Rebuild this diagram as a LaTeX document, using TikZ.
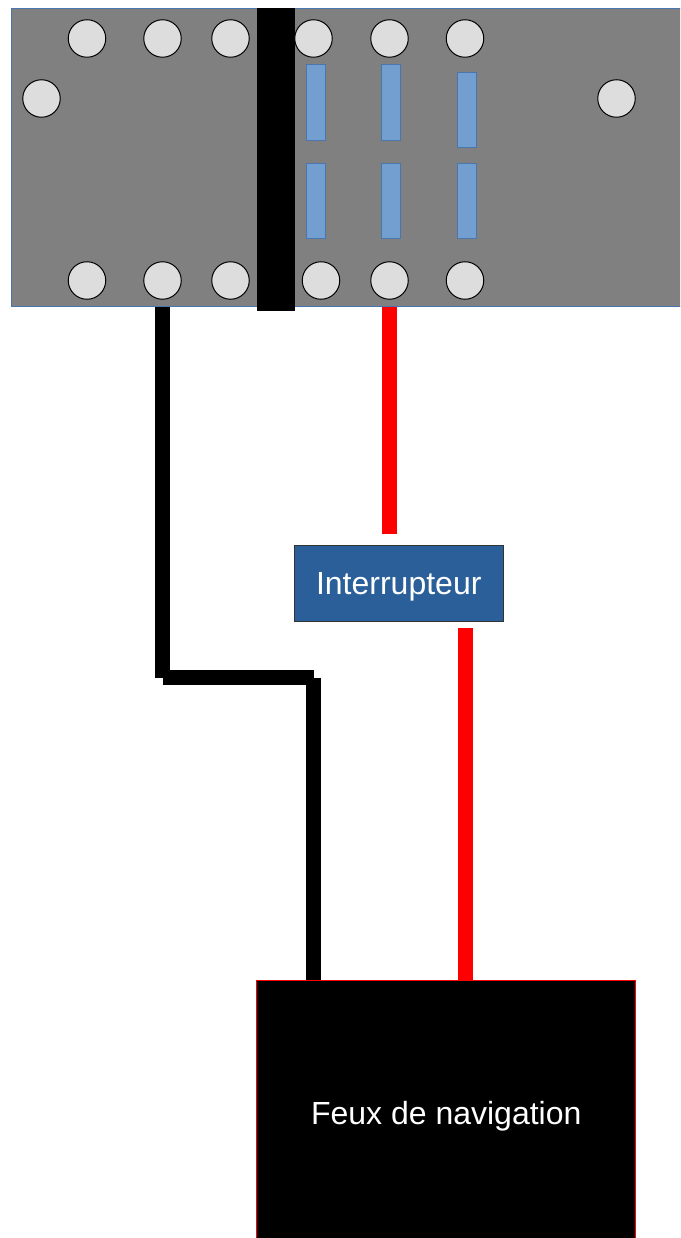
\documentclass[tikz,border=0pt]{standalone}
\usepackage{fontspec}
\setmainfont{Liberation Sans}

\definecolor{platine}{HTML}{808080}
\definecolor{bordbleu}{HTML}{4A76B0}
\definecolor{fente}{HTML}{729FCF}
\definecolor{trou}{HTML}{DDDDDD}
\definecolor{boite}{HTML}{2B5F99}

\tikzset{
	borne/.style={circle, draw=black, fill=trou, line width=1pt, minimum size=37.5pt, inner sep=0pt, outer sep=0pt},
	fentebleue/.style={rectangle, draw=bordbleu, fill=fente, line width=1pt, minimum width=19pt, minimum height=75.5pt, inner sep=0pt, outer sep=0pt},
	filnoir/.style={draw=black, line width=15pt},
	filrouge/.style={draw=red, line width=15pt},
	etiquette/.style={text=white, font=\fontsize{32}{36}\selectfont, text height=23pt, text depth=0pt, inner sep=0pt, outer sep=0pt}
}

\begin{document}
\begin{tikzpicture}[x=1pt, y=-1pt]
	\clip (0,0) rectangle (680,1238); % Rand wie im Original

	\node[rectangle, draw=bordbleu, fill=platine, line width=1pt, minimum width=689pt, minimum height=298pt, inner sep=0pt, outer sep=0pt] (platine) at (355.5,157.5) {};
	\node[rectangle, fill=black, minimum width=38pt, minimum height=303pt, inner sep=0pt, outer sep=0pt] (barre) at (276,159.5) {};

	% bornes
	\foreach \x/\nom in {87/a, 162.5/b, 230.5/c, 313.5/d, 389.5/e, 465/f}
		\node[borne] (haut\nom) at (\x,38.5) {};
	\foreach \x/\nom in {87/a, 162.5/b, 230.5/c, 321/d, 389.5/e, 465/f}
		\node[borne] (bas\nom) at (\x,280.5) {};
	\node[borne] (gauche) at (41.5,98.5) {};
	\node[borne] (droite) at (616.5,98.5) {};

	% fentes
	\node[fentebleue] (fenteA) at (315.5,102.75) {};
	\node[fentebleue] (fenteB) at (391.25,102.75) {};
	\node[fentebleue] (fenteC) at (467,110.25) {};
	\node[fentebleue] (fenteD) at (315.5,201.25) {};
	\node[fentebleue] (fenteE) at (391.25,201.25) {};
	\node[fentebleue] (fenteF) at (467,201.25) {};

	% boites
	\node[etiquette, rectangle, draw=black!80, fill=boite, line width=1pt, minimum width=208.5pt, minimum height=76pt] (inter) at (398.75,583) {Interrupteur};
	\node[etiquette, rectangle, draw=red, fill=black, line width=1pt, minimum width=379pt, minimum height=266pt] (feux) at (446.25,1113) {Feux de navigation};

	\coordinate (coudeA) at (162.5,677.5);
	\coordinate (coudeB) at (313.5,677.5);
	\coordinate (finrouge) at (389.5,534);
	\coordinate (debutrouge) at (465,628);

	% fils
	\draw[filnoir] (platine.south -| coudeA) -- (coudeA);
	\draw[filnoir] (coudeA) -- (coudeB);
	\draw[filnoir] (coudeB) -- (feux.north -| coudeB);
	\draw[filrouge] (platine.south -| finrouge) -- (finrouge);
	\draw[filrouge] (debutrouge) -- (feux.north -| debutrouge);
\end{tikzpicture}
\end{document}
